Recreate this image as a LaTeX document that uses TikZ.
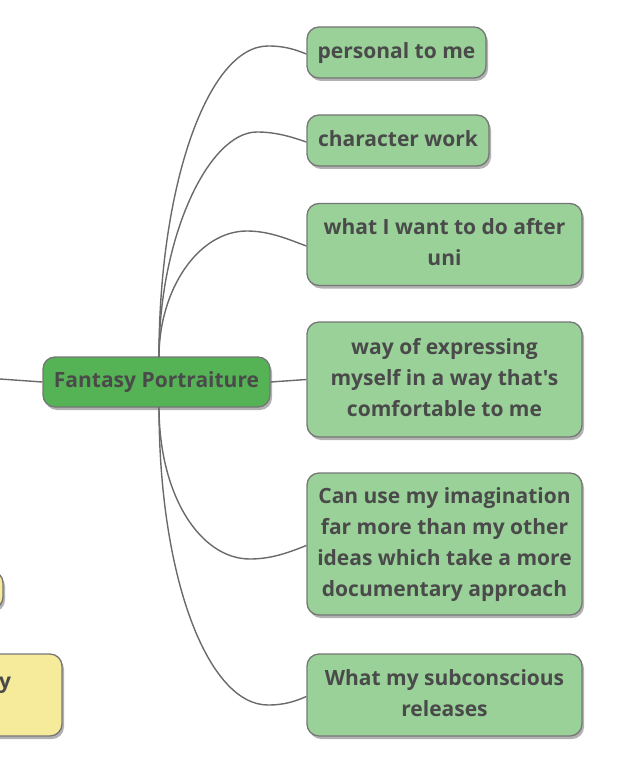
\documentclass[tikz,border=0pt]{standalone}
\usepackage{fontspec}
\setmainfont{Open Sans}[Ligatures=TeXOff]
\usetikzlibrary{shadows,calc}
\definecolor{centralfill}{HTML}{55B355}
\definecolor{childfill}{HTML}{99D199}
\definecolor{yellowfill}{HTML}{F5EB9B}
\definecolor{bordergray}{HTML}{767676}
\definecolor{textgray}{HTML}{4A4A4A}
\definecolor{linegray}{HTML}{6A6A6A}
\newcommand{\tstrut}{\rule[-5.8pt]{0pt}{23pt}}
\tikzset{
  topicbox/.style={draw=bordergray, line width=1.3pt, rounded corners=12pt,
    text=textgray, font=\bfseries\fontsize{21}{31}\selectfont, align=center,
    inner sep=0pt,
    drop shadow={shadow xshift=2pt, shadow yshift=-3pt, fill=black, opacity=0.3}},
  centralbox/.style={topicbox, fill=centralfill},
  childbox/.style={topicbox, fill=childfill},
  yellowbox/.style={topicbox, fill=yellowfill},
  link/.style={draw=linegray, line width=1.4pt}
}
\begin{document}
\begin{tikzpicture}[x=1pt,y=-1pt]
\useasboundingbox (0,0) rectangle (637,762);
\clip (0,0) rectangle (637,762);
% left partial nodes
\node[yellowbox, minimum width=150pt, minimum height=38pt] (y1) at (-72,590) {};
\node[yellowbox, minimum width=200pt, minimum height=82pt] (y2) at (-38,695) {};
\node[text=textgray, font=\bfseries\fontsize{21}{31}\selectfont, anchor=base west, inner sep=0pt] (y2t) at (-1,688) {y};
% central
\node[centralbox, minimum width=227pt, minimum height=50pt] (c) at (156.5,382) {\tstrut Fantasy Portraiture};
% children
\node[childbox, minimum width=179pt, minimum height=51pt] (n1) at (396.5,52.5) {\tstrut personal to me};
\node[childbox, minimum width=182pt, minimum height=51pt] (n2) at (398,140.5) {\tstrut character work};
\node[childbox, minimum width=275pt, minimum height=82pt] (n3) at (444.5,244.5) {\tstrut what I want to do after\\\tstrut uni};
\node[childbox, minimum width=275pt, minimum height=115pt] (n4) at (444.5,379.5) {\tstrut way of expressing\\\tstrut myself in a way that's\\\tstrut comfortable to me};
\node[childbox, minimum width=275pt, minimum height=142pt] (n5) at (444.5,544) {\tstrut Can use my imagination\\\tstrut far more than my other\\\tstrut ideas which take a more\\\tstrut documentary approach};
\node[childbox, minimum width=275pt, minimum height=82pt] (n6) at (444.5,695) {\tstrut What my subconscious\\\tstrut releases};
% connectors
\coordinate (ct) at (159,357);
\coordinate (cb) at (159,407);
\coordinate (lft) at (0,379);
\draw[link] (lft) -- (c.west);
\draw[link] (c.east) -- (n4.west);
\draw[link] (ct) .. controls (159,185) and (208,46) .. (268,46) .. controls (286,46) and (296,50) .. ([yshift=-1.5pt]n1.west);
\draw[link] (ct) .. controls (159,236) and (209,132) .. (257,132) .. controls (276,132) and (292,137) .. ([yshift=-1.5pt]n2.west);
\draw[link] (ct) .. controls (159,290) and (198,231) .. (247,231) .. controls (270,231) and (290,240) .. ([yshift=-1.5pt]n3.west);
\draw[link] (cb) .. controls (159,495) and (200,559) .. (250,559) .. controls (272,559) and (290,552) .. ([yshift=-1.5pt]n5.west);
\draw[link] (cb) .. controls (159,578) and (208,705) .. (268,705) .. controls (285,705) and (296,701) .. ([yshift=-1.5pt]n6.west);
\end{tikzpicture}
\end{document}
